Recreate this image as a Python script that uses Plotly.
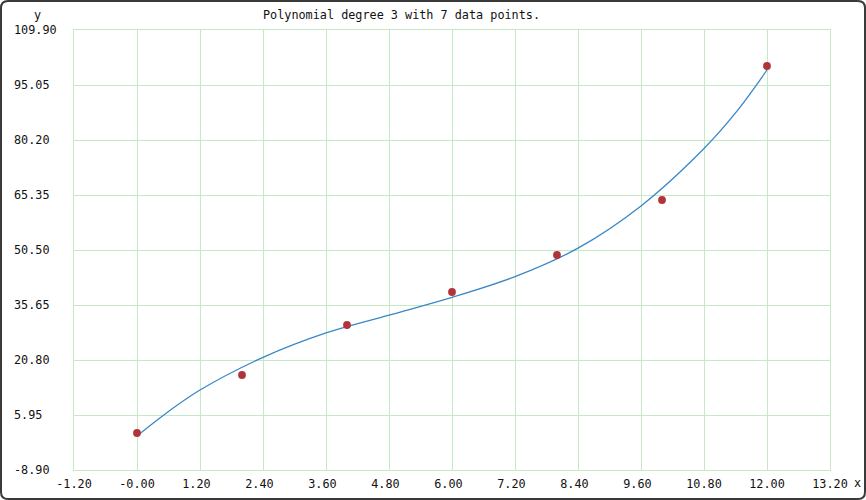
import plotly.graph_objects as go

# Data points
data_x = [0, 2, 4, 6, 8, 10, 12]
data_y = [1.09, 16.75, 30.25, 39.16, 49.15, 64.0, 100.18]

curve_x = [0.0, 0.6, 1.2, 2.4, 3.6, 4.8, 6.0, 7.2, 8.4, 9.6, 10.8, 11.4, 12.0]
curve_y = [0.3, 6.9, 12.7, 21.5, 28.1, 32.9, 37.7, 43.3, 51.0, 62.4, 77.9, 87.5, 99.1]

# Tick values and labels
x_ticks = [-1.2, 0.0, 1.2, 2.4, 3.6, 4.8, 6.0, 7.2, 8.4, 9.6, 10.8, 12.0, 13.2]
x_labels = ["-1.20", "-0.00", "1.20", "2.40", "3.60", "4.80", "6.00",
            "7.20", "8.40", "9.60", "10.80", "12.00", "13.20"]
y_ticks = [-8.9, 5.95, 20.8, 35.65, 50.5, 65.35, 80.2, 95.05, 109.9]
y_labels = ["-8.90", "5.95", "20.80", "35.65", "50.50", "65.35", "80.20",
            "95.05", "109.90"]

title_text = "Polynomial degree 3 with 7 data points."

NB = "\u00a0"
x_text = [s + NB * (5 - len(s)) for s in x_labels]
y_text = [s + NB * (6 - len(s)) for s in y_labels]

FONT = "DejaVu Sans Mono"
GRID = "#c4e9c4"
TXT = "#111111"
FS = 11.8

fig = go.Figure()
fig.add_trace(go.Scatter(
    x=curve_x, y=curve_y, mode="lines",
    line=dict(color="#3a87c6", width=1.3, shape="spline", smoothing=1.0),
    hoverinfo="skip", showlegend=False))
fig.add_trace(go.Scatter(
    x=data_x, y=data_y, mode="markers", marker=dict(color="#b0343a", size=7.8),
    showlegend=False))

W, H = 866, 500
L, R, T, B = 74, 36, 30, 30
pw, ph = W - L - R, H - T - B

fig.update_layout(
    width=W, height=H, autosize=False,
    margin=dict(l=L, r=R, t=T, b=B, pad=0, autoexpand=False),
    paper_bgcolor="white", plot_bgcolor="white",
    font=dict(family=FONT, size=FS, color=TXT),
    xaxis=dict(range=[-1.2, 13.2], tickvals=x_ticks, ticktext=x_text,
               showgrid=True, gridcolor=GRID, gridwidth=1, zeroline=False,
               showline=True, linecolor=GRID, linewidth=1, mirror=True,
               ticks="", ticklabelstandoff=3, fixedrange=True, automargin=False),
    yaxis=dict(range=[-8.9, 109.9], tickvals=y_ticks, ticktext=y_text,
               showgrid=True, gridcolor=GRID, gridwidth=1, zeroline=False,
               showline=True, linecolor=GRID, linewidth=1, mirror=True,
               ticks="", ticklabelstandoff=14, fixedrange=True, automargin=False),
    annotations=[
        dict(text=title_text, xref="paper", yref="paper",
             x=(261 - L) / pw, y=(H - 15 - B) / ph, xanchor="left", yanchor="middle",
             showarrow=False, font=dict(family=FONT, size=FS, color=TXT)),
        dict(text="y", xref="paper", yref="paper",
             x=(37 - L) / pw, y=(H - 15 - B) / ph, xanchor="center", yanchor="middle",
             showarrow=False, font=dict(family=FONT, size=FS, color=TXT)),
        dict(text="x", xref="paper", yref="paper",
             x=(857 - L) / pw, y=(H - 483 - B) / ph, xanchor="center", yanchor="middle",
             showarrow=False, font=dict(family=FONT, size=FS, color=TXT)),
    ],
)

# Window frame with rounded corners (paper coordinates)
def px(xp):
    return (xp - L) / pw

def py(yp):
    return (H - yp - B) / ph

r = 7
x0, x1, y0, y1 = 1, W - 1, 1, H - 1
path = (f"M {px(x0 + r)},{py(y0)} L {px(x1 - r)},{py(y0)} "
        f"Q {px(x1)},{py(y0)} {px(x1)},{py(y0 + r)} "
        f"L {px(x1)},{py(y1 - r)} Q {px(x1)},{py(y1)} {px(x1 - r)},{py(y1)} "
        f"L {px(x0 + r)},{py(y1)} Q {px(x0)},{py(y1)} {px(x0)},{py(y1 - r)} "
        f"L {px(x0)},{py(y0 + r)} Q {px(x0)},{py(y0)} {px(x0 + r)},{py(y0)} Z")
fig.add_shape(type="path", path=path, xref="paper", yref="paper",
              line=dict(color="#3a3a3a", width=2), layer="above")

fig.write_html("out.html",
               config={"displayModeBar": False, "responsive": False},
               default_width="866px", default_height="500px",
               post_script="document.body.style.margin='0px';document.body.style.overflow='hidden';")
